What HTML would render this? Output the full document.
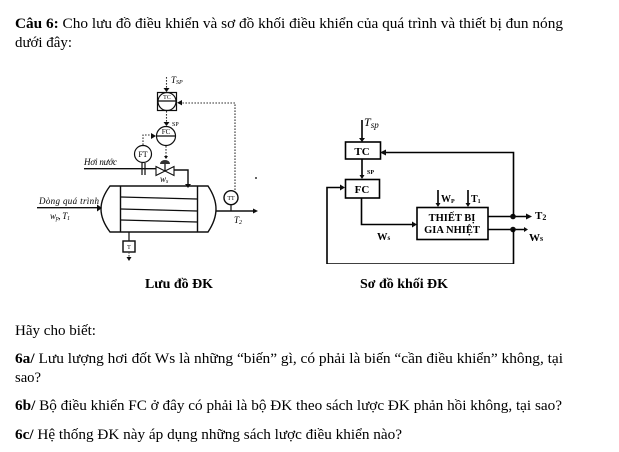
<!DOCTYPE html>
<html><head><meta charset="utf-8"><style>
html,body{margin:0;padding:0;background:#fff}
svg{display:block}
text{font-family:"Liberation Serif",serif;fill:#000}
.t{font-size:14.67px}
.b{font-weight:bold}
.l{fill:none;stroke:#111;stroke-width:1.2}
.k{fill:none;stroke:#111;stroke-width:1.4}
.m{fill:none;stroke:#000;stroke-width:1.6}
.d{fill:none;stroke:#333;stroke-width:1.1;stroke-dasharray:1.6 1.4}
.s{font-size:9px;font-style:italic}
</style></head><body>
<svg width="619" height="452" viewBox="0 0 619 452" xmlns="http://www.w3.org/2000/svg">
<defs><filter id="f" x="0" y="0" width="100%" height="100%"><feGaussianBlur stdDeviation="0.35"/></filter></defs>

<text class="t" x="15" y="28" textLength="548" lengthAdjust="spacingAndGlyphs"><tspan class="b">Câu 6:</tspan> Cho lưu đồ điều khiển và sơ đồ khối điều khiển của quá trình và thiết bị đun nóng</text>
<text class="t" x="15" y="47" textLength="57" lengthAdjust="spacingAndGlyphs">dưới đây:</text>

<g filter="url(#f)">
<!-- Process flow diagram -->
<path class="d" d="M166.5 77V89"/>
<path d="M163.5 88h6l-3 4z" fill="#111"/>
<text class="s" x="171" y="83" font-size="9">T<tspan font-size="6" dy="1">SP</tspan></text>
<rect class="l" x="157.500" y="92.500" width="19" height="18"/>
<circle class="l" cx="167" cy="101.500" r="9"/>
<path class="l" d="M158 101h18"/>
<text x="167" y="99" font-size="6" text-anchor="middle">TC</text>
<path class="d" d="M166.500 111V123"/>
<path d="M163.500 122h6l-3 4z" fill="#111"/>
<text x="172" y="126" font-size="6">SP</text>
<circle class="l" cx="166" cy="136" r="9.500"/>
<path class="l" d="M157 136h18"/>
<text x="166" y="134" font-size="7" text-anchor="middle">FC</text>
<path class="d" d="M166 146V158"/>
<path d="M164 156h4l-2 3z" fill="#111"/>
<path class="d" d="M143 145V135H152"/>
<path d="M151 133l5 3-5 3z" fill="#111"/>
<circle class="l" cx="143" cy="154" r="8.500"/>
<text x="143" y="157" font-size="8" text-anchor="middle">FT</text>
<path class="l" d="M142 163v12M145 163v12"/>
<text class="s" x="84" y="165" textLength="33">Hơi nước</text>
<path class="k" d="M84 168.700H156M174 170H188V186"/>
<path d="M156 166.500l9 4.500-9 4.500zM174 166.500l-9 4.500 9 4.500z" fill="#fff" stroke="#111" stroke-width="1.100"/>
<path d="M160 164a5 4 0 0 1 10 0z" fill="#333"/>
<path class="l" d="M165 164v7"/>
<text class="s" x="160" y="182">w<tspan font-size="6" dy="1">s</tspan></text>
<path d="M185 184h6l-3 4z" fill="#111"/>
<path class="k" d="M120.500 186H197.500M120.500 232H197.500M120.500 186V232M197.500 186V232"/>
<path class="k" d="M120.500 186H110Q101 198 101 209T110 232H120.500"/>
<path class="k" d="M197.500 186H208Q216 198 216 209T208 232H197.500"/>
<path class="l" d="M121 197L197 199M121 209L197 211M121 220L197 222"/>
<text class="s" x="39" y="204" textLength="60">Dòng quá trình</text>
<path class="k" d="M37 207.700H98"/>
<path d="M97 204.500l5 3.500-5 3.500z" fill="#111"/>
<text class="s" x="50" y="219" textLength="20">w<tspan font-size="6" dy="1">p</tspan><tspan dy="-1">, T</tspan><tspan font-size="6" dy="1">1</tspan></text>
<circle class="k" cx="231" cy="197.700" r="7"/>
<text x="231" y="200" font-size="6" text-anchor="middle">TT</text>
<path class="l" d="M231 205V211"/>
<path class="k" d="M216 211H254"/>
<path d="M253 208.500l5 2.500-5 2.500z" fill="#111"/>
<text class="s" x="234" y="223">T<tspan font-size="6" dy="1">2</tspan></text>
<path class="d" d="M235 190V103H182"/>
<path d="M182 100l-5 2.700 5 2.700z" fill="#111"/>
<path class="l" d="M129 232V241"/>
<rect class="k" x="123" y="241" width="12" height="11"/>
<text x="129" y="249" font-size="6" text-anchor="middle">T</text>
<path class="d" d="M129 252V258"/>
<path d="M126.500 257h5l-2.500 4z" fill="#111"/>
<circle cx="256" cy="178" r="1" fill="#333"/>

<!-- Block diagram -->
<path class="m" d="M362 120V139M362 159V176"/>
<path d="M359 138h6l-3 4zM359.500 175h5l-2.500 4z" fill="#111"/>
<text x="364" y="126" font-size="12" font-style="italic">T<tspan font-size="9" dy="2">sp</tspan></text>
<rect class="m" x="345.500" y="142" width="35" height="17"/>
<text x="362" y="155" font-size="11" font-weight="bold" text-anchor="middle">TC</text>
<text x="367" y="174" font-size="6" font-weight="bold">SP</text>
<rect class="m" x="345.500" y="179.500" width="34" height="18.500"/>
<text x="362" y="193" font-size="11" font-weight="bold" text-anchor="middle">FC</text>
<path class="m" d="M361.500 198V224.500H413"/>
<path d="M412 221.500l5 3-5 3z" fill="#111"/>
<rect class="m" x="417" y="207.500" width="71" height="32"/>
<text x="452" y="221" font-size="10.500" font-weight="bold" text-anchor="middle">THIẾT BỊ</text>
<text x="452" y="233" font-size="10.500" font-weight="bold" text-anchor="middle">GIA NHIỆT</text>
<path class="m" d="M438 190V204M468 190V204"/>
<path d="M435.500 203h5l-2.500 4zM465.500 203h5l-2.500 4z" fill="#111"/>
<text x="441" y="202" font-size="10" font-weight="bold">W<tspan font-size="6" dy="1">P</tspan></text>
<text x="471" y="202" font-size="10" font-weight="bold">T<tspan font-size="6" dy="1">1</tspan></text>
<text x="377" y="240" font-size="10.500" font-weight="bold">W<tspan font-size="7">s</tspan></text>
<path class="m" d="M488 216.500H527M488 229.500H524"/>
<path d="M526 213.500l6 3-6 3zM524 227l4 2.500-4 2.500z" fill="#111"/>
<circle cx="513" cy="216.500" r="2.800" fill="#111"/>
<circle cx="513" cy="229.500" r="2.800" fill="#111"/>
<path class="m" d="M513.500 216V152.500H385"/>
<path d="M386 149.500l-6 3 6 3z" fill="#111"/>
<path class="m" d="M513.500 229V264H327V187.500H341"/>
<path d="M340 184.500l5 3-5 3z" fill="#111"/>
<text x="535" y="219" font-size="11" font-weight="bold">T<tspan font-size="8" dy="1">2</tspan></text>
<text x="529" y="241" font-size="11" font-weight="bold">W<tspan font-size="8">s</tspan></text>
</g>

<text x="145" y="288" font-size="13.500" font-weight="bold" textLength="68" lengthAdjust="spacingAndGlyphs">Lưu đồ ĐK</text>
<text x="360" y="288" font-size="13.500" font-weight="bold" textLength="88" lengthAdjust="spacingAndGlyphs">Sơ đồ khối ĐK</text>

<text class="t" x="15" y="335" textLength="81" lengthAdjust="spacingAndGlyphs">Hãy cho biết:</text>
<text class="t" x="15" y="363" textLength="548" lengthAdjust="spacingAndGlyphs"><tspan class="b">6a/</tspan> Lưu lượng hơi đốt Ws là những “biến” gì, có phải là biến “cần điều khiển” không, tại</text>
<text class="t" x="15" y="382" textLength="26" lengthAdjust="spacingAndGlyphs">sao?</text>
<text class="t" x="15" y="410" textLength="547" lengthAdjust="spacingAndGlyphs"><tspan class="b">6b/</tspan> Bộ điều khiển FC ở đây có phải là bộ ĐK theo sách lược ĐK phản hồi không, tại sao?</text>
<text class="t" x="15" y="439" textLength="387" lengthAdjust="spacingAndGlyphs"><tspan class="b">6c/</tspan> Hệ thống ĐK này áp dụng những sách lược điều khiển nào?</text>
</svg>
</body></html>
